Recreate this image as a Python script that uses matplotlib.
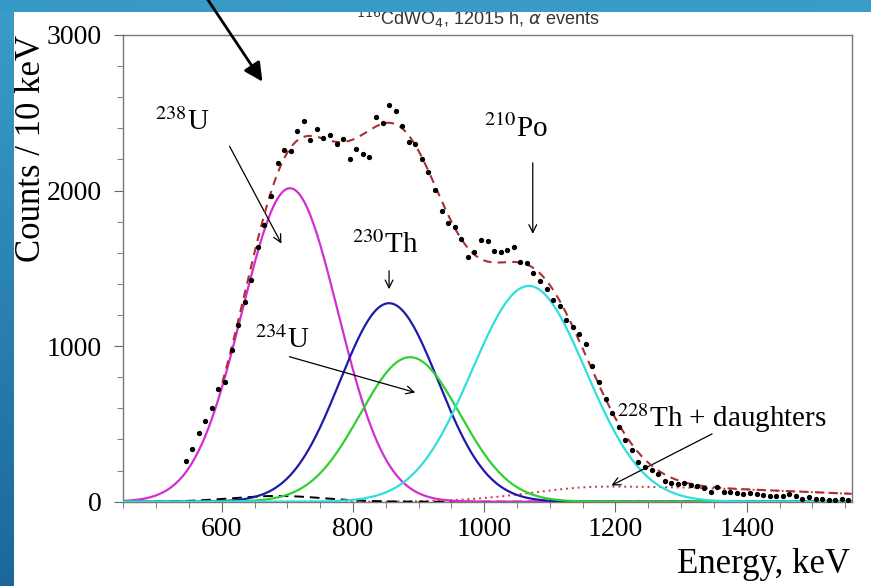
import numpy as np
import matplotlib
matplotlib.use('Agg')
import matplotlib.pyplot as plt
from matplotlib.colors import LinearSegmentedColormap

plt.rcParams['font.family'] = ['Liberation Serif', 'DejaVu Serif']
plt.rcParams['mathtext.fontset'] = 'stix'

# measured spectrum, 10 keV bins
energy = np.arange(545, 1556, 10)
counts = [264, 337, 444, 519, 600, 723, 772, 976, 1136, 1286,
          1426, 1640, 1779, 1966, 2176, 2262, 2257, 2386, 2448, 2326,
          2397, 2337, 2354, 2298, 2332, 2202, 2268, 2236, 2215, 2476,
          2433, 2551, 2514, 2416, 2315, 2300, 2202, 2122, 2004, 1869,
          1790, 1769, 1687, 1572, 1606, 1683, 1675, 1610, 1606, 1619,
          1640, 1540, 1535, 1473, 1421, 1366, 1297, 1258, 1168, 1125,
          1076, 1012, 873, 772, 659, 573, 482, 397, 332, 257,
          225, 204, 176, 135, 118, 112, 122, 107, 103, 86,
          60, 93, 60, 60, 58, 50, 58, 50, 43, 39,
          39, 39, 48, 37, 17, 28, 15, 19, 11, 11,
          15, 10]

# fitted alpha peaks (gaussian): centre keV, height, sigma keV
peak_names = ['238U', '230Th', '234U', '210Po']
peak_centre = [704, 855, 887, 1068]
peak_height = [2015, 1276, 929, 1387]
peak_sigma = [73, 75, 76, 87]
peak_color = ['#d22fd2', '#1c1ca6', '#30d030', '#30dede']

# 228Th + daughters (asymmetric), background bump
th228 = dict(height=97, centre=1185, sig_left=110, sig_right=330)
bkg = dict(height=37, centre=685, sigma=70)


def gauss(e, h, mu, s):
    return h * np.exp(-0.5 * ((e - mu) / s) ** 2)


e = np.linspace(450, 1560, 700)
comps = [gauss(e, h, mu, s) for h, mu, s in zip(peak_height, peak_centre, peak_sigma)]
sig = np.where(e < th228['centre'], th228['sig_left'], th228['sig_right'])
th_curve = gauss(e, th228['height'], th228['centre'], sig)
bkg_curve = gauss(e, bkg['height'], bkg['centre'], bkg['sigma'])
total = sum(comps) + th_curve + bkg_curve

W, H = 871, 586
fig = plt.figure(figsize=(W / 100, H / 100), dpi=100)
ax = fig.add_axes([123.3 / W, 1 - 501.7 / H, (851.7 - 123.3) / W, (501.7 - 35) / H])

ax.plot(e, th_curve, color='#d03a3a', lw=1.4, ls=(0, (1, 2)), zorder=2)
ax.plot(e, bkg_curve, color='black', lw=1.4, ls=(0, (5, 3)), zorder=3)
for c, col in zip(comps, peak_color):
    ax.plot(e, c, color=col, lw=1.6, zorder=3)
m = e >= 600
ax.plot(e[m], total[m], color='#aa3030', lw=1.5, ls=(0, (4, 3)), zorder=4)
ax.plot(energy, counts, 'o', ms=2.8, color='black', zorder=5)

ax.set_xlim(450, 1560)
ax.set_ylim(0, 3000)
ax.set_xticks(np.arange(600, 1401, 200))
ax.set_xticks(np.arange(450, 1560, 50), minor=True)
ax.set_yticks([0, 1000, 2000, 3000])
ax.set_yticks(np.arange(0, 3001, 200), minor=True)
ax.tick_params(axis='both', which='both', direction='out', color='#666',
               labelsize=20, top=False, right=False)
ax.tick_params(axis='y', which='major', length=6.5, pad=9)
ax.tick_params(axis='y', which='minor', length=4)
ax.tick_params(axis='x', which='major', length=7, pad=4)
ax.tick_params(axis='x', which='minor', length=4)
for s in ax.spines.values():
    s.set_color('#777')
    s.set_linewidth(1)

# labels and arrows
arr = dict(arrowstyle='->', color='black', lw=0.9, mutation_scale=14)
ax.text(498, 2390, r'$^{238}$U', fontsize=21, ha='left', va='baseline')
ax.annotate('', xy=(693, 1643), xytext=(610, 2300), arrowprops=arr)
ax.text(798, 1599, r'$^{230}$Th', fontsize=21, ha='left', va='baseline')
ax.annotate('', xy=(855, 1348), xytext=(855, 1502), arrowprops=arr)
ax.text(650, 988, r'$^{234}$U', fontsize=21, ha='left', va='baseline')
ax.annotate('', xy=(899, 697), xytext=(699, 937), arrowprops=arr)
ax.text(1000, 2345, r'$^{210}$Po', fontsize=21, ha='left', va='baseline')
ax.annotate('', xy=(1074, 1704), xytext=(1074, 2196), arrowprops=arr)
ax.text(1202, 480, r'$^{228}$Th + daughters', fontsize=21, ha='left', va='baseline')
ax.annotate('', xy=(1190, 96), xytext=(1351, 444), arrowprops=arr)

fig.text(850 / W, 1 - 573 / H, 'Energy, keV', fontsize=25, ha='right', va='baseline')
fig.text(31 / W, 1 - 148 / H, 'Counts / 10 keV', fontsize=25, rotation=90,
         ha='center', va='center')
fig.text(478 / W, 1 - 25 / H, r'$^{116}$CdWO$_4$, 12015 h, $\alpha$ events',
         fontsize=13, family=['Liberation Sans', 'DejaVu Sans'], color='#333',
         math_fontfamily='dejavusans', ha='center', va='baseline', zorder=5)

# blue slide frame on the left and top
blue = LinearSegmentedColormap.from_list('b', ['#1b679c', '#3a9dc8'])
lb = fig.add_axes([0, 0, 13 / W, 1], zorder=10)
lb.imshow(np.linspace(1, 0, 256).reshape(-1, 1), cmap=blue, aspect='auto',
          extent=[0, 1, 0, 1])
lb.axis('off')
tb = fig.add_axes([0, 1 - 12 / H, 1, 12 / H], zorder=10)
tb.imshow(np.linspace(0.93, 1, 256).reshape(1, -1), cmap=blue, aspect='auto',
          extent=[0, 1, 0, 1], vmin=0, vmax=1)
tb.axis('off')

over = fig.add_axes([0, 0, 1, 1], zorder=20)
over.axis('off')
over.annotate('', xy=(264, H - 84), xytext=(204, H + 6), xycoords='figure pixels',
              textcoords='figure pixels', annotation_clip=False,
              arrowprops=dict(arrowstyle='-|>', color='black', lw=2, mutation_scale=28))

fig.savefig('out.png', dpi=100)
